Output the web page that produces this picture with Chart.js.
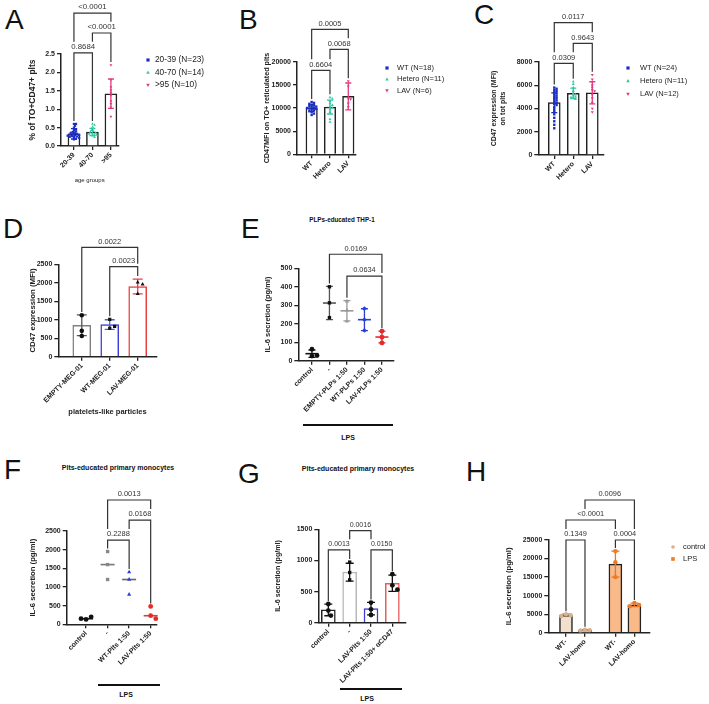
<!DOCTYPE html>
<html>
<head>
<meta charset="utf-8">
<script src="https://cdn.jsdelivr.net/npm/chart.js"></script>
<style>
  body { margin: 0; width: 709px; height: 704px; position: relative; overflow: hidden; background: #fff;
         font-family: "Liberation Sans", Arial, sans-serif; color: #111; }
  canvas { position: absolute; }
  .L { position: absolute; font-size: 28px; line-height: 28px; color: #111; }
  .T { position: absolute; transform: translate(-50%, -50%); font-weight: bold; white-space: nowrap; line-height: 1; font-size: 7px; color: #111; }
  .rule { position: absolute; height: 2px; background: #111; }
</style>
</head>
<body>
<div class="L" style="left:5px;top:6px">A</div>
<div class="L" style="left:239px;top:6px">B</div>
<div class="L" style="left:474px;top:1px">C</div>
<div class="L" style="left:3px;top:215px">D</div>
<div class="L" style="left:241px;top:215px">E</div>
<div class="L" style="left:4px;top:456px">F</div>
<div class="L" style="left:238px;top:460px">G</div>
<div class="L" style="left:466px;top:458px">H</div>

<div class="T" style="left:342px;top:220px;font-size:6.3px">PLPs-educated THP-1</div>
<div class="T" style="left:118px;top:467px">Plts-educated primary monocytes</div>
<div class="T" style="left:358px;top:468px">Plts-educated primary monocytes</div>

<div class="rule" style="left:303px;top:424px;width:90px"></div>
<div class="T" style="left:348px;top:437px">LPS</div>
<div class="rule" style="left:98px;top:684px;width:62px"></div>
<div class="T" style="left:126px;top:694px">LPS</div>
<div class="rule" style="left:340px;top:688px;width:62px"></div>
<div class="T" style="left:367px;top:698px">LPS</div>

<script>
// ---- A: % TO+CD47+ plts by age group
const aCats = ['20-39', '40-70', '>95'];
const aLegend = ['20-39 (N=23)', '40-70 (N=14)', '>95 (N=10)'];
const aMeans = [0.33, 0.38, 1.42];
const aSD = [0.14, 0.1, 0.4];
const aPts = [
  [0.6, 0.6, 0.55, 0.5, 0.46, 0.43, 0.4, 0.38, 0.36, 0.35, 0.33, 0.32, 0.31, 0.3, 0.29, 0.28, 0.27, 0.26, 0.25, 0.24, 0.22, 0.2, 0.18],
  [0.6, 0.57, 0.52, 0.47, 0.43, 0.4, 0.38, 0.36, 0.34, 0.33, 0.31, 0.3, 0.28, 0.24],
  [2.2, 1.8, 1.6, 1.52, 1.45, 1.38, 1.22, 1.15, 1.05, 0.8]
];
const aP = [['<0.0001', 0, 2, 3.61], ['<0.0001', 1, 2, 3.07], ['0.8684', 0, 1, 2.53]];

// ---- B: CD47 MFI on TO+ reticulated plts
const bCats = ['WT', 'Hetero', 'LAV'];
const bLegend = ['WT (N=18)', 'Hetero (N=11)', 'LAV (N=6)'];
const bMeans = [10000, 10200, 12500];
const bSD = [750, 1500, 2900];
const bPts = [
  [11300, 11100, 10900, 10700, 10600, 10400, 10300, 10200, 10100, 10000, 9900, 9800, 9700, 9500, 9300, 9100, 8800, 8500],
  [12300, 12000, 11500, 11000, 10600, 10300, 10000, 9700, 9100, 7600, 7000],
  [15800, 14700, 12100, 11900, 11000, 10200]
];
const bP = [['0.0005', 0, 2, 27000], ['0.0068', 1, 2, 22680], ['0.6604', 0, 1, 18140]];

// ---- C: CD47 on total plts
const cCats = ['WT', 'Hetero', 'LAV'];
const cLegend = ['WT (N=24)', 'Hetero (N=11)', 'LAV (N=12)'];
const cMeans = [4500, 5300, 5350];
const cSD = [850, 450, 950];
const cPts = [
  [5800, 5700, 5600, 5500, 5400, 5300, 5200, 5100, 5000, 4900, 4800, 4700, 4600, 4500, 4400, 4300, 4100, 3900, 3700, 3500, 3200, 2900, 2600, 2300],
  [6300, 6100, 5800, 5500, 5300, 5200, 5100, 5000, 4950, 4900, 4800],
  [6900, 6500, 6300, 6000, 5800, 5600, 5500, 5200, 4900, 4500, 4000, 3700]
];
const cP = [['0.0117', 0, 2, 11380], ['0.9643', 1, 2, 9610], ['0.0309', 0, 1, 7890]];

// ---- D: platelet-like particles
const dCats = ['EMPTY-MEG-01', 'WT-MEG-01', 'LAV-MEG-01'];
const dMeans = [850, 870, 1900];
const dSD = [280, 130, 200];
const dPts = [[1120, 700, 560], [1010, 770, 820], [2010, 1960, 1700]];
const dP = [['0.0022', 0, 2, 2960], ['0.0023', 1, 2, 2435]];

// ---- E: PLPs-educated THP-1
const eCats = ['control', '-', 'EMPTY-PLPs 1:50', 'WT-PLPs 1:50', 'LAV-PLPs 1:50'];
const eMeans = [38, 312, 270, 222, 128];
const eSD = [20, 90, 55, 59, 32];
const ePts = [[62, 25, 28], [400, 313, 233], [322, 273, 213], [282, 222, 164], [160, 127, 96]];
const eP = [['0.0169', 1, 4, 576], ['0.0634', 2, 4, 458]];

// ---- F: Plts-educated primary monocytes (dot plot)
const fCats = ['control', '-', 'WT-Plts 1:50', 'LAV-Plts 1:50'];
const fMid = [150, 1600, 1200, 230];
const fPts = [[130, 200, 150], [1950, 1600, 1200], [1400, 1200, 800], [480, 230, 150]];
const fP = [['0.0013', 1, 3, 3330], ['0.0168', 2, 3, 2794], ['0.2288', 1, 2, 2258]];

// ---- G: Plts-educated primary monocytes (bars)
const gCats = ['control', '-', 'LAV-Plts 1:50', 'LAV-Plts 1:50+ \u03b1CD47'];
const gMeans = [205, 812, 225, 634];
const gSD = [93, 143, 100, 130];
const gPts = [[300, 195, 115], [973, 806, 688], [323, 215, 124], [780, 600, 530]];
const gP = [['0.0013', 0, 1, 1169], ['0.0150', 2, 3, 1169], ['0.0016', 1, 2, 1479]];

// ---- H: IL-6, control vs LPS
const hCats = ['WT-', 'LAV-homo', 'WT-', 'LAV-homo'];
const hSeries = ['control', 'LPS'];
const hMeans = [4700, 700, 18500, 7500];
const hSD = [300, 120, 3500, 480];
const hPts = [[5000, 4700, 4500], [800, 700, 620], [22000, 19000, 15000], [8000, 7500, 7100]];
const hP = [['0.1349', 0, 1, 25000], ['0.0004', 2, 3, 25000], ['<0.0001', 0, 2, 30400], ['0.0096', 1, 3, 35790]];

Chart.defaults.font.family = '"Liberation Sans", Arial, sans-serif';
Chart.defaults.color = '#222';

const FONT = '"Liberation Sans", Arial, sans-serif';
const BLUE = '#1c2fc4', GREEN = '#30c9a3', PINK = '#e23a7f';
const RED = '#e62a2a', DBLUE = '#2a3fd0';

// spread points sideways so they do not pile up (layout only, values untouched)
function swarm(vals, center, pxX, pxY, d) {
  const placed = [];
  vals.forEach(v => {
    const py = v * pxY;
    let k = 0, off = 0;
    while (true) {
      off = (k % 2 ? 1 : -1) * Math.ceil(k / 2) * d / 2;
      if (placed.every(p => Math.hypot(p.px - off, p.py - py) >= d)) break;
      k++;
    }
    placed.push({px: off, py: py, x: center + off / pxX, y: v});
  });
  return placed.map(p => ({x: p.x, y: p.y}));
}

function marker(ctx, style, x, y, r, rot) {
  ctx.save();
  ctx.translate(x, y);
  ctx.rotate((rot || 0) * Math.PI / 180);
  ctx.beginPath();
  if (style === 'rect') ctx.rect(-r, -r, 2 * r, 2 * r);
  else if (style === 'triangle') { ctx.moveTo(0, -r * 1.2); ctx.lineTo(r * 1.1, r * 0.8); ctx.lineTo(-r * 1.1, r * 0.8); ctx.closePath(); }
  else ctx.arc(0, 0, r, 0, Math.PI * 2);
  ctx.fill();
  ctx.restore();
}

function makePanel(cfg) {
  const [cl, ct, cw, ch] = cfg.box;
  const [pl, pt, pr, pb] = cfg.plot;
  const cv = document.createElement('canvas');
  cv.width = cw; cv.height = ch;
  cv.style.left = cl + 'px'; cv.style.top = ct + 'px';
  cv.style.width = cw + 'px'; cv.style.height = ch + 'px';
  document.body.appendChild(cv);

  const pos = cfg.pos || cfg.cats.map((c, i) => i);
  const pxX = (pr - pl) / (cfg.xRange[1] - cfg.xRange[0]);
  const pxY = (pb - pt) / cfg.yMax;
  const gap = cfg.swarmD || cfg.radius * 2 + 0.3;

  const datasets = [];
  if (cfg.bar) {
    datasets.push({
      type: 'bar', order: 10,
      data: pos.map((p, i) => ({x: p, y: cfg.means[i]})),
      backgroundColor: cfg.bar.fill, borderColor: cfg.bar.edge,
      borderWidth: 1.5, barThickness: cfg.bar.width
    });
  }
  cfg.points.forEach((vals, i) => {
    datasets.push({
      type: 'scatter', order: 0, clip: false, showLine: false,
      data: swarm(vals, pos[i], pxX, pxY, gap),
      pointStyle: cfg.styles[i], pointRotation: cfg.rot ? cfg.rot[i] : 0,
      pointRadius: cfg.radius, pointBorderWidth: 0,
      pointBackgroundColor: cfg.colors[i], pointBorderColor: cfg.colors[i]
    });
  });

  function drawErr(chart) {
    const {x, y} = chart.scales, ctx = chart.ctx;
    ctx.save();
    ctx.lineWidth = 1.3;
    cfg.means.forEach((m, i) => {
      const px = x.getPixelForValue(pos[i]);
      const col = cfg.errColors[i];
      ctx.strokeStyle = col;
      if (cfg.sd) {
        const y1 = y.getPixelForValue(m + cfg.sd[i]), y2 = y.getPixelForValue(m - cfg.sd[i]);
        ctx.beginPath();
        ctx.moveTo(px, y1); ctx.lineTo(px, y2);
        ctx.moveTo(px - cfg.cap, y1); ctx.lineTo(px + cfg.cap, y1);
        ctx.moveTo(px - cfg.cap, y2); ctx.lineTo(px + cfg.cap, y2);
        ctx.stroke();
      }
      if (cfg.meanW) {
        const ym = y.getPixelForValue(m);
        ctx.lineWidth = 1.6;
        ctx.beginPath(); ctx.moveTo(px - cfg.meanW, ym); ctx.lineTo(px + cfg.meanW, ym); ctx.stroke();
        ctx.lineWidth = 1.3;
      }
    });
    ctx.restore();
  }

  function drawBrackets(chart) {
    const {x, y} = chart.scales, ctx = chart.ctx;
    ctx.save();
    ctx.font = cfg.bFont + 'px ' + FONT;
    ctx.lineWidth = 1.2; ctx.strokeStyle = '#333'; ctx.fillStyle = '#333';
    ctx.textAlign = 'center'; ctx.textBaseline = 'bottom';
    const tops = pos.map((p, i) => y.getPixelForValue(Math.max(...cfg.points[i], cfg.means[i] + (cfg.sd ? cfg.sd[i] : 0))));
    const done = [];
    [...cfg.brackets].sort((a, b) => a[3] - b[3]).forEach(([lab, f, t, lev]) => {
      const x1 = x.getPixelForValue(pos[f]), x2 = x.getPixelForValue(pos[t]);
      const yl = y.getPixelForValue(lev);
      const legEnd = (c, xc) => {
        let ob = tops[c];
        done.forEach(b => {
          if (xc >= b.x1 - 1 && xc <= b.x2 + 1) ob = Math.min(ob, b.yl);
          if (Math.abs(xc - b.xm) <= b.hw + 2) ob = Math.min(ob, b.tt);
        });
        return Math.max(ob - 3, yl);
      };
      const e1 = legEnd(f, x1), e2 = legEnd(t, x2);
      ctx.beginPath();
      ctx.moveTo(x1, e1); ctx.lineTo(x1, yl); ctx.lineTo(x2, yl); ctx.lineTo(x2, e2);
      ctx.stroke();
      const xm = (x1 + x2) / 2;
      ctx.fillText(lab, xm, yl - 2);
      done.push({x1, x2, yl, xm, hw: ctx.measureText(lab).width / 2, tt: yl - 2 - cfg.bFont * 0.8});
    });
    ctx.restore();
  }

  function drawLegend(chart) {
    const L = cfg.legend;
    if (!L) return;
    const ctx = chart.ctx;
    ctx.save();
    ctx.font = L.font + 'px ' + FONT;
    ctx.textAlign = 'left'; ctx.textBaseline = 'middle';
    L.labels.forEach((lab, i) => {
      const yy = L.y - ct + i * L.dy;
      ctx.fillStyle = L.colors[i];
      marker(ctx, L.styles[i], L.x - cl, yy, L.r, L.rot ? L.rot[i] : 0);
      ctx.fillStyle = '#222';
      ctx.fillText(lab, L.tx - cl, yy);
    });
    ctx.restore();
  }

  const extras = {
    id: 'extras',
    afterDatasetDraw(chart, args) { if (cfg.bar && args.meta.type === 'bar') drawErr(chart); },
    beforeDatasetsDraw(chart) { if (!cfg.bar) drawErr(chart); },
    afterDraw(chart) { drawBrackets(chart); drawLegend(chart); }
  };

  const axisLine = {color: '#222', width: 1.5};
  const grid = {drawOnChartArea: false, drawTicks: true, tickLength: 4, color: '#222', lineWidth: 1.3, offset: false};
  const yt = cfg.yTitle;
  const ytLh = yt.size * (yt.lh || 1.2);
  const xt = cfg.xTitle;

  new Chart(cv, {
    type: 'bar',
    data: {datasets},
    options: {
      responsive: false, animation: false, events: [],
      layout: {padding: {left: 0, top: pt - ct, right: cl + cw - pr, bottom: 0}},
      plugins: {legend: {display: false}, tooltip: {enabled: false}},
      scales: {
        x: {
          type: 'linear', offset: false, min: cfg.xRange[0], max: cfg.xRange[1],
          afterBuildTicks: s => { s.ticks = pos.map(v => ({value: v})); },
          afterFit: s => { s.height = ct + ch - pb; },
          ticks: {autoSkip: false, minRotation: 45, maxRotation: 45, padding: 1,
                  font: {size: 7, weight: 'bold'}, color: '#222',
                  callback: (v, i) => cfg.cats[i]},
          grid: grid, border: axisLine,
          title: xt ? {display: true, text: xt.text, color: '#222',
                       font: {size: xt.size, weight: xt.bold ? 'bold' : 'normal', lineHeight: 1.2},
                       padding: {top: 0, bottom: ct + ch - xt.y - xt.size * 0.6}} : {display: false}
        },
        y: {
          type: 'linear', min: 0, max: cfg.yMax,
          afterFit: s => { s.width = pl - cl; },
          ticks: {stepSize: cfg.yStep, padding: 2, font: {size: 7, weight: 'bold'}, color: '#222',
                  callback: v => cfg.yDec ? v.toFixed(cfg.yDec) : String(v)},
          grid: grid, border: axisLine,
          title: {display: true, text: yt.text, color: '#222',
                  font: {size: yt.size, weight: 'bold', lineHeight: yt.lh || 1.2},
                  padding: {top: yt.x - cl - ytLh / 2, bottom: 0}}
        }
      }
    },
    plugins: [extras]
  });
}

// A
makePanel({
  box: [0, 0, 230, 190], plot: [61, 54, 118.3, 146],
  cats: aCats, xRange: [-0.7, 2.4], yMax: 2.5, yStep: 0.5, yDec: 1,
  yTitle: {text: '% of TO+CD47+ plts', size: 8.5, x: 33},
  xTitle: {text: 'age groups', size: 6, y: 180, bold: false},
  means: aMeans, sd: aSD, points: aPts, cap: 3,
  bar: {width: 12, fill: '#fff', edge: '#222'},
  colors: [BLUE, GREEN, PINK], errColors: [BLUE, GREEN, PINK],
  styles: ['rect', 'triangle', 'triangle'], rot: [0, 0, 180], radius: 1.6, swarmD: 2.1,
  brackets: aP, bFont: 7.8,
  legend: {labels: aLegend, colors: [BLUE, GREEN, PINK], styles: ['rect', 'triangle', 'triangle'], rot: [0, 0, 180],
           r: 1.6, x: 148, tx: 155, y: 60, dy: 12.5, font: 8.3}
});

// B
makePanel({
  box: [230, 0, 225, 200], plot: [297, 61.7, 356, 154.3],
  cats: bCats, xRange: [-0.8, 2.42], yMax: 20000, yStep: 5000,
  yTitle: {text: 'CD47MFI on TO+ reticulated plts', size: 7.2, x: 266.7},
  means: bMeans, sd: bSD, points: bPts, cap: 3,
  bar: {width: 11.5, fill: '#fff', edge: '#222'},
  colors: [BLUE, GREEN, PINK], errColors: [BLUE, GREEN, PINK],
  styles: ['rect', 'triangle', 'triangle'], rot: [0, 0, 180], radius: 1.7, swarmD: 2.3,
  brackets: bP, bFont: 7.5,
  legend: {labels: bLegend, colors: [BLUE, GREEN, PINK], styles: ['rect', 'triangle', 'triangle'], rot: [0, 0, 180],
           r: 1.6, x: 387, tx: 397, y: 68, dy: 11.3, font: 7.5}
});

// C
makePanel({
  box: [460, 0, 249, 200], plot: [538.3, 62, 603.3, 155],
  cats: cCats, xRange: [-0.84, 2.58], yMax: 8000, yStep: 2000,
  yTitle: {text: ['CD47 expression (MFI)', 'on tot plts'], size: 7, lh: 1.3, x: 494},
  means: cMeans, sd: cSD, points: cPts, cap: 3,
  bar: {width: 12, fill: '#fff', edge: '#222'},
  colors: [BLUE, GREEN, PINK], errColors: [BLUE, GREEN, PINK],
  styles: ['rect', 'triangle', 'triangle'], rot: [0, 0, 180], radius: 1.7, swarmD: 2.3,
  brackets: cP, bFont: 7.5,
  legend: {labels: cLegend, colors: [BLUE, GREEN, PINK], styles: ['rect', 'triangle', 'triangle'], rot: [0, 0, 180],
           r: 1.6, x: 628, tx: 640, y: 68, dy: 13, font: 7.5}
});

// D
makePanel({
  box: [0, 200, 230, 220], plot: [58.3, 264.3, 156.7, 356.7],
  cats: dCats, xRange: [-0.84, 2.68], yMax: 2500, yStep: 500,
  yTitle: {text: 'CD47 expression (MFI)', size: 7.8, x: 33},
  xTitle: {text: 'platelets-like particles', size: 7.5, y: 412, bold: true},
  means: dMeans, sd: dSD, points: dPts, cap: 5,
  bar: {width: 18, fill: '#fff', edge: ['#808080', '#3b3bd6', '#e84040']},
  colors: ['#111', '#111', '#111'], errColors: ['#555', '#5a5ad8', '#e84040'],
  styles: ['circle', 'rect', 'triangle'], radius: 2.3,
  brackets: dP, bFont: 7.5
});

// E
makePanel({
  box: [230, 200, 230, 215], plot: [298.3, 268.3, 393.3, 360.7],
  cats: eCats, xRange: [-0.78, 4.65], yMax: 500, yStep: 100,
  yTitle: {text: 'IL-6 secretion (pg/ml)', size: 7.5, x: 268},
  means: eMeans, sd: eSD, points: ePts, cap: 3.5, meanW: 6.5,
  colors: ['#111', '#111', '#999', DBLUE, RED], errColors: ['#111', '#555', '#999', DBLUE, RED],
  styles: ['circle', 'rect', 'triangle', 'rectRot', 'circle'], radius: 2.4,
  brackets: eP, bFont: 7.4
});

// F
makePanel({
  box: [0, 440, 230, 264], plot: [66.7, 531, 156.7, 624.3],
  cats: fCats, xRange: [-0.9, 3.28], yMax: 2500, yStep: 500,
  yTitle: {text: 'IL-6 secretion (pg/ml)', size: 7.7, x: 33},
  means: fMid, sd: null, points: fPts, meanW: 7,
  colors: ['#111', '#888', DBLUE, RED], errColors: ['#111', '#777', '#666', '#c44'],
  styles: ['circle', 'rect', 'triangle', 'circle'], radius: 2.4,
  brackets: fP, bFont: 7.5
});

// G
makePanel({
  box: [230, 440, 230, 264], plot: [318.3, 529.3, 406, 622.7],
  cats: gCats, xRange: [-0.47, 3.64], yMax: 1500, yStep: 500,
  yTitle: {text: 'IL-6 secretion (pg/ml)', size: 7.1, x: 278},
  means: gMeans, sd: gSD, points: gPts, cap: 4,
  bar: {width: 14, fill: '#fff', edge: ['#222', '#b8b8b8', '#3b3bd6', '#e85a5a']},
  colors: ['#111', '#111', '#111', '#111'], errColors: ['#111', '#111', '#111', '#111'],
  styles: ['circle', 'rect', 'circle', 'circle'], radius: 2.4,
  brackets: gP, bFont: 7
});

// H
makePanel({
  box: [460, 440, 249, 264], plot: [548.3, 540, 650, 632.7],
  cats: hCats, pos: [0, 1, 2.6, 3.6], xRange: [-0.93, 4.42], yMax: 25000, yStep: 5000,
  yTitle: {text: 'IL-6 secretion (pg/ml)', size: 7.7, x: 509},
  means: hMeans, sd: hSD, points: hPts, cap: 4,
  bar: {width: 13, fill: ['#f3e0cc', '#f3e0cc', '#f9b988', '#f9b988'], edge: '#222'},
  colors: ['#d8b08a', '#d8b08a', '#ee7a25', '#ee7a25'], errColors: ['#777', '#777', '#e8762b', '#e8762b'],
  styles: ['circle', 'circle', 'circle', 'circle'], radius: 2.2,
  brackets: hP, bFont: 7.4,
  legend: {labels: hSeries, colors: ['#d8b08a', '#ee7a25'], styles: ['circle', 'rect'],
           r: 1.8, x: 673, tx: 683, y: 547, dy: 12, font: 7.5}
});
</script>
</body>
</html>
